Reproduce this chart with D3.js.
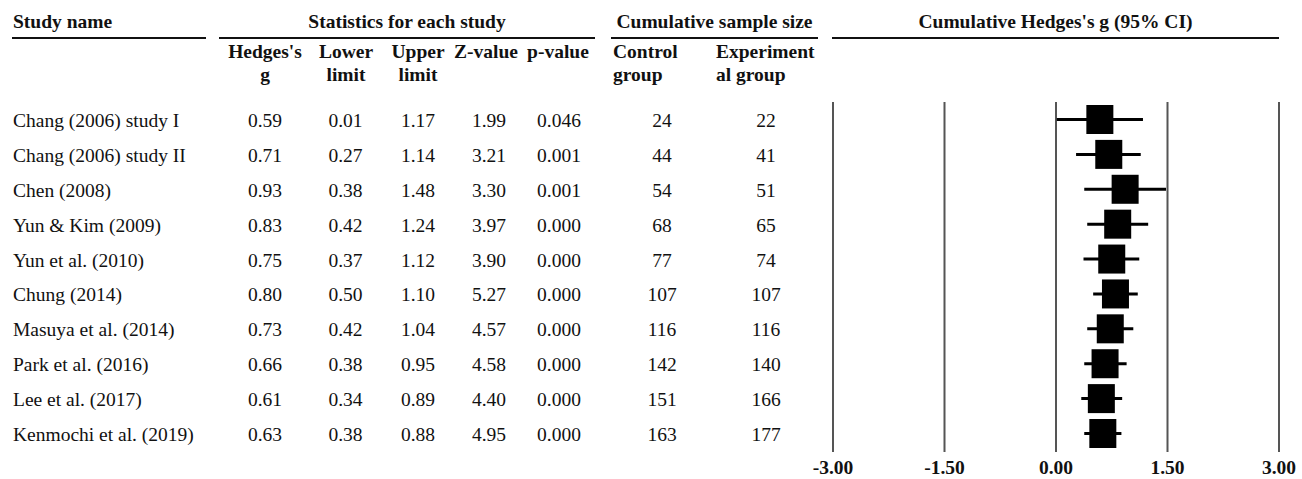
<!DOCTYPE html>
<html>
<head>
<meta charset="utf-8">
<script src="https://cdn.jsdelivr.net/npm/d3@7"></script>
<style>
  html, body { margin: 0; padding: 0; background: #fff; }
  svg { display: block; font-family: "Liberation Serif", "Times New Roman", serif; }
</style>
</head>
<body>
<svg id="chart" width="1302" height="479"></svg>
<script>
// Cumulative meta-analysis: one row per study, added in chronological order
const studies = [
  "Chang (2006) study I", "Chang (2006) study II", "Chen (2008)", "Yun & Kim (2009)",
  "Yun et al. (2010)", "Chung (2014)", "Masuya et al. (2014)", "Park et al. (2016)",
  "Lee et al. (2017)", "Kenmochi et al. (2019)"
];
const hedgesG     = [0.59, 0.71, 0.93, 0.83, 0.75, 0.80, 0.73, 0.66, 0.61, 0.63];
const lowerLimit  = [0.01, 0.27, 0.38, 0.42, 0.37, 0.50, 0.42, 0.38, 0.34, 0.38];
const upperLimit  = [1.17, 1.14, 1.48, 1.24, 1.12, 1.10, 1.04, 0.95, 0.89, 0.88];
const zValue      = [1.99, 3.21, 3.30, 3.97, 3.90, 5.27, 4.57, 4.58, 4.40, 4.95];
const pValue      = [0.046, 0.001, 0.001, 0.000, 0.000, 0.000, 0.000, 0.000, 0.000, 0.000];
const controlN    = [24, 44, 54, 68, 77, 107, 116, 142, 151, 163];
const experimentN = [22, 41, 51, 65, 74, 107, 116, 140, 166, 177];
const axisTicks   = [-3, -1.5, 0, 1.5, 3];

const rows = studies.map((name, i) => ({
  name, g: hedgesG[i], lo: lowerLimit[i], hi: upperLimit[i],
  z: zValue[i], p: pValue[i], nc: controlN[i], ne: experimentN[i]
}));

const svg = d3.select("#chart");
const FS = 19.5;

const fmt = d3.formatLocale({ decimal: ".", thousands: ",", grouping: [3], currency: ["", ""], minus: "-" });
const f2 = fmt.format(".2f");
const f3 = fmt.format(".3f");

// scales
const x = d3.scaleLinear().domain([-3, 3]).range([833, 1279]);
const y = d3.scalePoint().domain(studies).range([119.5, 433.5]);

// ---- group headers with underlines ----
const groups = [
  { label: "Study name", x0: 12, x1: 206, anchor: "start", tx: 13 },
  { label: "Statistics for each study", x0: 219, x1: 595, anchor: "middle" },
  { label: "Cumulative sample size", x0: 611, x1: 818, anchor: "middle" },
  { label: "Cumulative Hedges's g (95% CI)", x0: 832, x1: 1279, anchor: "middle" }
];
svg.append("g").selectAll("text").data(groups).join("text")
  .attr("x", d => d.anchor === "start" ? d.tx : (d.x0 + d.x1) / 2)
  .attr("y", 28)
  .attr("text-anchor", d => d.anchor)
  .attr("font-weight", "bold")
  .attr("font-size", FS)
  .attr("fill", "#111")
  .text(d => d.label);
svg.append("g").selectAll("line").data(groups).join("line")
  .attr("x1", d => d.x0).attr("x2", d => d.x1)
  .attr("y1", 38).attr("y2", 38)
  .attr("stroke", "#111").attr("stroke-width", 2);

// ---- column sub-headers ----
const subHeads = [
  { lines: ["Hedges's", "g"], x: 265, anchor: "middle" },
  { lines: ["Lower", "limit"], x: 346, anchor: "middle" },
  { lines: ["Upper", "limit"], x: 418, anchor: "middle" },
  { lines: ["Z-value"], x: 486, anchor: "middle" },
  { lines: ["p-value"], x: 558, anchor: "middle" },
  { lines: ["Control", "group"], x: 613, anchor: "start" },
  { lines: ["Experiment", "al group"], x: 716, anchor: "start" }
];
const sh = svg.append("g").selectAll("text").data(subHeads).join("text")
  .attr("x", d => d.x)
  .attr("y", 58)
  .attr("text-anchor", d => d.anchor)
  .attr("font-weight", "bold")
  .attr("font-size", FS)
  .attr("fill", "#111");
sh.selectAll("tspan").data(d => d.lines.map(t => ({ t, x: d.x }))).join("tspan")
  .attr("x", d => d.x)
  .attr("dy", (d, i) => i === 0 ? 0 : 23)
  .text(d => d.t);

// ---- table body ----
const cols = [
  { key: "name", x: 13, anchor: "start", f: v => v },
  { key: "g", x: 265, anchor: "middle", f: f2 },
  { key: "lo", x: 345.5, anchor: "middle", f: f2 },
  { key: "hi", x: 418, anchor: "middle", f: f2 },
  { key: "z", x: 489, anchor: "middle", f: f2 },
  { key: "p", x: 559, anchor: "middle", f: f3 },
  { key: "nc", x: 662, anchor: "middle", f: v => v },
  { key: "ne", x: 766, anchor: "middle", f: v => v }
];
const rowG = svg.append("g").selectAll("g").data(rows).join("g")
  .attr("transform", d => `translate(0,${y(d.name) + 7.5})`);
rowG.selectAll("text").data(d => cols.map(c => ({ c, v: d[c.key] }))).join("text")
  .attr("x", d => d.c.x)
  .attr("text-anchor", d => d.c.anchor)
  .attr("font-size", FS)
  .attr("fill", "#111")
  .text(d => d.c.f(d.v));

// ---- forest plot ----
const plot = svg.append("g");
plot.selectAll("line.grid").data(axisTicks).join("line")
  .attr("class", "grid")
  .attr("x1", d => x(d)).attr("x2", d => x(d))
  .attr("y1", 102).attr("y2", 452)
  .attr("stroke", "#555").attr("stroke-width", 2);

plot.selectAll("line.ci").data(rows).join("line")
  .attr("class", "ci")
  .attr("x1", d => x(d.lo)).attr("x2", d => x(d.hi))
  .attr("y1", d => y(d.name)).attr("y2", d => y(d.name))
  .attr("stroke", "#000").attr("stroke-width", 3);

const bw = 27, bh = 29;
plot.selectAll("rect.pt").data(rows).join("rect")
  .attr("class", "pt")
  .attr("x", d => x(d.g) - bw / 2)
  .attr("y", d => y(d.name) - bh / 2)
  .attr("width", bw).attr("height", bh)
  .attr("fill", "#000");

plot.selectAll("text.tick").data(axisTicks).join("text")
  .attr("class", "tick")
  .attr("x", d => x(d))
  .attr("y", 474)
  .attr("text-anchor", "middle")
  .attr("font-weight", "bold")
  .attr("font-size", FS)
  .attr("fill", "#111")
  .text(d => f2(d));
</script>
</body>
</html>
